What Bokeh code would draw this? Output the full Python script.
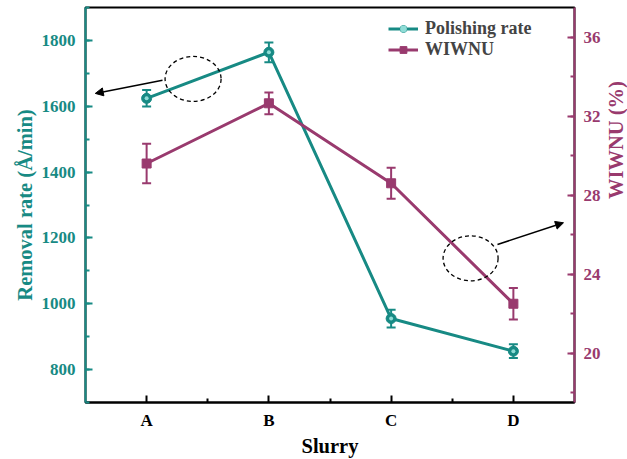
import numpy as np
from bokeh.plotting import figure
from bokeh.layouts import row
from bokeh.core.properties import value
from bokeh.models import (Range1d, LinearAxis, SingleIntervalTicker, FixedTicker,
                          Whisker, TeeHead, Arrow, NormalHead, ColumnDataSource, Legend)
from bokeh.embed import file_html
from bokeh.resources import INLINE

# ---- data ----
slurries = ["A", "B", "C", "D"]
x_pos = [1, 2, 3, 4]
removal_rate = [1624, 1764, 955, 856]
removal_err = [25, 30, 27, 21]
wiwnu = [29.6, 32.65, 28.6, 22.5]
wiwnu_err = [1.0, 0.55, 0.78, 0.8]

TEAL = "#178a84"
PURPLE = "#993a6e"
FONT = "Liberation Serif"
TICK_FS = "17px"
LABEL_FS = "20.5px"
H = 459

p = figure(width=603, height=H, output_backend="svg", toolbar_location=None,
           x_range=Range1d(0.5, 4.5), y_range=Range1d(700, 1900),
           min_border_left=85, min_border_right=29, min_border_top=7, min_border_bottom=57)
p.extra_y_ranges = {"right": Range1d(17.5, 37.5)}
p.grid.visible = False
p.outline_line_color = "black"
p.outline_line_width = 2
p.background_fill_color = "white"
p.border_fill_color = "white"

# x axis
xa = p.xaxis[0]
xa.ticker = FixedTicker(ticks=x_pos, minor_ticks=[1.5, 2.5, 3.5])
xa.major_label_overrides = {x: s for x, s in zip(x_pos, slurries)}
xa.axis_label = "Slurry"
xa.axis_line_color = "black"
xa.axis_line_width = 2
xa.major_tick_in = 7
xa.major_tick_out = 0
xa.minor_tick_in = 4
xa.minor_tick_out = 0
xa.major_tick_line_width = 2
xa.minor_tick_line_width = 2
xa.major_label_standoff = 8
xa.axis_label_standoff = 2
xa.major_label_text_font = FONT
xa.major_label_text_font_style = "bold"
xa.major_label_text_font_size = TICK_FS
xa.major_label_text_color = "black"
xa.axis_label_text_font = FONT
xa.axis_label_text_font_style = "bold"
xa.axis_label_text_font_size = LABEL_FS
xa.axis_label_text_color = "black"

# left axis
ya = p.yaxis[0]
ya.ticker = SingleIntervalTicker(interval=200, num_minor_ticks=2)
ya.axis_label = "Removal rate (Å/min)"
for attr in ["axis_line_color", "major_tick_line_color", "minor_tick_line_color",
             "major_label_text_color", "axis_label_text_color"]:
    setattr(ya, attr, TEAL)
ya.axis_line_width = 2
ya.major_tick_in = 7
ya.major_tick_out = 0
ya.minor_tick_in = 4
ya.minor_tick_out = 0
ya.major_tick_line_width = 2
ya.minor_tick_line_width = 2
ya.major_label_standoff = 10
ya.axis_label_standoff = 3
ya.major_label_text_font = FONT
ya.major_label_text_font_style = "bold"
ya.major_label_text_font_size = TICK_FS
ya.axis_label_text_font = FONT
ya.axis_label_text_font_style = "bold"
ya.axis_label_text_font_size = LABEL_FS

# right axis
ra = LinearAxis(y_range_name="right", ticker=SingleIntervalTicker(interval=4, num_minor_ticks=2))
for attr in ["axis_line_color", "major_tick_line_color", "minor_tick_line_color",
             "major_label_text_color"]:
    setattr(ra, attr, PURPLE)
ra.axis_line_width = 2
ra.major_tick_in = 7
ra.major_tick_out = 0
ra.minor_tick_in = 4
ra.minor_tick_out = 0
ra.major_tick_line_width = 2
ra.minor_tick_line_width = 2
ra.major_label_standoff = 9
ra.major_label_text_font = FONT
ra.major_label_text_font_style = "bold"
ra.major_label_text_font_size = TICK_FS
p.add_layout(ra, "right")

# data sources
src_r = ColumnDataSource(dict(x=x_pos, y=removal_rate,
                              lo=[v - e for v, e in zip(removal_rate, removal_err)],
                              hi=[v + e for v, e in zip(removal_rate, removal_err)]))
src_w = ColumnDataSource(dict(x=x_pos, y=wiwnu,
                              lo=[v - e for v, e in zip(wiwnu, wiwnu_err)],
                              hi=[v + e for v, e in zip(wiwnu, wiwnu_err)]))

# error bars
wr = Whisker(source=src_r, base="x", upper="hi", lower="lo", dimension="height",
             line_color=TEAL, line_width=2,
             upper_head=TeeHead(size=9, line_color=TEAL, line_width=2),
             lower_head=TeeHead(size=9, line_color=TEAL, line_width=2))
ww = Whisker(source=src_w, base="x", upper="hi", lower="lo", dimension="height",
             line_color=PURPLE, line_width=2, y_range_name="right",
             upper_head=TeeHead(size=9, line_color=PURPLE, line_width=2),
             lower_head=TeeHead(size=9, line_color=PURPLE, line_width=2))
p.add_layout(wr)
p.add_layout(ww)

# lines and markers
l1 = p.line("x", "y", source=src_r, line_color=TEAL, line_width=3)
m1 = p.scatter("x", "y", source=src_r, marker="circle", size=10, fill_color=TEAL, line_color=TEAL)
m1b = p.scatter("x", "y", source=src_r, marker="circle", size=4, fill_color="#8fdcd6", line_color=None)
l2 = p.line("x", "y", source=src_w, line_color=PURPLE, line_width=3, y_range_name="right")
m2 = p.scatter("x", "y", source=src_w, marker="square", size=9, fill_color=PURPLE,
               line_color=PURPLE, y_range_name="right")

# annotations: dashed ellipses and arrows
p.ellipse(x=[1.38], y=[1683], width=56, height=45, width_units="screen", height_units="screen",
          fill_color=None, line_color="black", line_dash="4 3", line_width=1.3)
p.ellipse(x=[3.65], y=[24.8], width=55, height=45, width_units="screen", height_units="screen",
          fill_color=None, line_color="black", line_dash="4 3", line_width=1.3,
          y_range_name="right")
p.add_layout(Arrow(x_start=1.13, y_start=1679, x_end=0.58, y_end=1639,
                   line_color="black", line_width=1.5,
                   end=NormalHead(size=8, fill_color="black", line_color="black")))
p.add_layout(Arrow(x_start=3.87, y_start=25.5, x_end=4.41, y_end=26.6, y_range_name="right",
                   line_color="black", line_width=1.5,
                   end=NormalHead(size=8, fill_color="black", line_color="black")))

legend = Legend(items=[("Polishing rate", [l1, m1, m1b]), ("WIWNU", [l2, m2])],
                location=(303, 342), border_line_color=None, background_fill_alpha=0,
                label_text_font=FONT, label_text_font_style="bold", label_text_font_size="18px",
                glyph_width=30, glyph_height=17, label_height=17, spacing=-6, padding=0,
                margin=0, label_standoff=7)
p.add_layout(legend)

# narrow strip holding the right-axis title (reads bottom-to-top, sits above centre)
p2 = figure(width=24, height=H, output_backend="svg", toolbar_location=None,
            x_range=Range1d(0, 1), y_range=Range1d(0, H),
            x_axis_location=None, y_axis_location=None,
            min_border_left=0, min_border_right=0, min_border_top=0, min_border_bottom=0)
p2.grid.visible = False
p2.outline_line_color = None
p2.text(x=[0.5], y=[H - 154], text=["WIWNU (%)"], angle=np.pi / 2,
        text_align="center", text_baseline="middle", text_font=value(FONT),
        text_font_style="bold", text_font_size=value(LABEL_FS), text_color=PURPLE)

open("out.html", "w").write(file_html(row(p, p2), INLINE))
